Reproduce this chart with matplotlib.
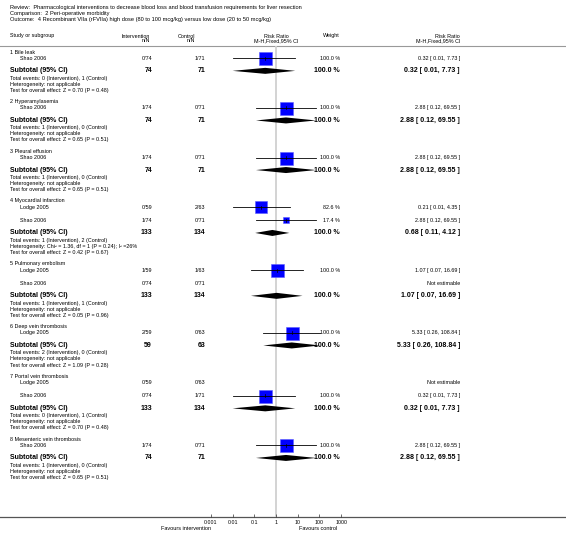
import numpy as np
import matplotlib
matplotlib.use('Agg')
import matplotlib.pyplot as plt

plt.rcParams['font.family'] = ['Liberation Sans', 'DejaVu Sans']

# ---- data ----
title_lines = [
    'Review:  Pharmacological interventions to decrease blood loss and blood transfusion requirements for liver resection',
    'Comparison:  2 Peri-operative morbidity',
    'Outcome:  4 Recombinant VIIa (rFVIIa) high dose (80 to 100 mcg/kg) versus low dose (20 to 50 mcg/kg)',
]

group_names = ['1 Bile leak', '2 Hyperamylasemia', '3 Pleural effusion', '4 Myocardial infarction',
               '5 Pulmonary embolism', '6 Deep vein thrombosis', '7 Portal vein thrombosis',
               '8 Mesenteric vein thrombosis']

study_group = [0, 1, 2, 3, 3, 4, 4, 5, 6, 6, 7]
study_names = ['Shao 2006', 'Shao 2006', 'Shao 2006', 'Lodge 2005', 'Shao 2006', 'Lodge 2005',
               'Shao 2006', 'Lodge 2005', 'Lodge 2005', 'Shao 2006', 'Shao 2006']
study_int = ['0/74', '1/74', '1/74', '0/59', '1/74', '1/59', '0/74', '2/59', '0/59', '0/74', '1/74']
study_ctl = ['1/71', '0/71', '0/71', '2/63', '0/71', '1/63', '0/71', '0/63', '0/63', '1/71', '0/71']
study_weight = [100.0, 100.0, 100.0, 82.6, 17.4, 100.0, None, 100.0, None, 100.0, 100.0]
study_rr = [0.32, 2.88, 2.88, 0.21, 2.88, 1.07, None, 5.33, None, 0.32, 2.88]
study_lo = [0.01, 0.12, 0.12, 0.01, 0.12, 0.07, None, 0.26, None, 0.01, 0.12]
study_hi = [7.73, 69.55, 69.55, 4.35, 69.55, 16.69, None, 108.84, None, 7.73, 69.55]

sub_int_n = [74, 74, 74, 133, 133, 59, 133, 74]
sub_ctl_n = [71, 71, 71, 134, 134, 63, 134, 71]
sub_rr = [0.32, 2.88, 2.88, 0.68, 1.07, 5.33, 0.32, 2.88]
sub_lo = [0.01, 0.12, 0.12, 0.11, 0.07, 0.26, 0.01, 0.12]
sub_hi = [7.73, 69.55, 69.55, 4.12, 16.69, 108.84, 7.73, 69.55]
sub_ev_int = [0, 1, 1, 1, 1, 2, 0, 1]
sub_ev_ctl = [1, 0, 0, 2, 1, 0, 1, 0]
sub_het = ['not applicable', 'not applicable', 'not applicable',
           'Chi\u00b2 = 1.36, df = 1 (P = 0.24); I\u00b2 =26%',
           'not applicable', 'not applicable', 'not applicable', 'not applicable']
sub_z = ['0.70', '0.65', '0.65', '0.42', '0.05', '1.09', '0.70', '0.65']
sub_p = ['0.48', '0.51', '0.51', '0.67', '0.96', '0.28', '0.48', '0.51']

ticks = [0.001, 0.01, 0.1, 1, 10, 100, 1000]
tick_labels = ['0.001', '0.01', '0.1', '1', '10', '100', '1000']

# ---- layout (pixel units) ----
W, H = 566, 545
fs = 3.85     # normal text
fsh = 3.9     # header text
fsb = 5.0     # bold subtotal text
x_label = 10
x_study = 20
x_int = 152
x_ctl = 205
x_null = 276
decade = 21.7
x_weight = 340
x_rr = 460
y_hline = 45.5
y_axis = 517

fig = plt.figure(figsize=(W / 100, H / 100), dpi=100)
ax = fig.add_axes([0, 0, 1, 1])
ax.set_xlim(0, W)
ax.set_ylim(H, 0)
ax.axis('off')

# forest panel with a log scale, y in the same pixel units
px0, px1 = x_null - 100, x_null + 100
pax = fig.add_axes([px0 / W, 1 - y_axis / H, (px1 - px0) / W, (y_axis - y_hline) / H])
pax.set_xscale('log')
pax.set_xlim(10 ** (-100 / decade), 10 ** (100 / decade))
pax.set_ylim(y_axis, y_hline)
pax.patch.set_alpha(0)
for s in pax.spines.values():
    s.set_visible(False)
pax.set_yticks([])
pax.set_xticks(ticks)
pax.set_xticklabels(tick_labels)
pax.minorticks_off()
pax.tick_params(axis='x', direction='in', length=2.2, width=0.5, labelsize=3.8, pad=2.5, color='#333333')
pax.axvline(1, color='#d0d0d0', lw=1.3, zorder=0)

# titles / header
for i, t in enumerate(title_lines):
    ax.text(x_label, 7 + 6.3 * i, t, fontsize=4.1, va='center', ha='left')
ax.text(x_label, 36, 'Study or subgroup', fontsize=fsh, va='center')
ax.text(x_int - 2, 36, 'Intervention', fontsize=fsh, va='center', ha='right')
ax.text(x_int - 2, 41, 'n/N', fontsize=fsh, va='center', ha='right')
ax.text(x_ctl - 10, 36, 'Control', fontsize=fsh, va='center', ha='right')
ax.text(x_ctl - 10, 41, 'n/N', fontsize=fsh, va='center', ha='right')
ax.text(x_null, 36, 'Risk Ratio', fontsize=fsh, va='center', ha='center')
ax.text(x_null, 41, 'M-H,Fixed,95% CI', fontsize=fsh, va='center', ha='center')
ax.text(x_weight, 36, 'Weight', fontsize=fsh, va='center', ha='right')
ax.text(x_rr, 36, 'Risk Ratio', fontsize=fsh, va='center', ha='right')
ax.text(x_rr, 41, 'M-H,Fixed,95% CI', fontsize=fsh, va='center', ha='right')
ax.plot([0, W], [y_hline, y_hline], color='#999999', lw=0.8)
ax.plot([0, W], [y_axis, y_axis], color='#555555', lw=0.9)

# rows
y = 52.0
for g, name in enumerate(group_names):
    ax.text(x_label, y, name, fontsize=fs, va='center')
    y += 6.35
    idx = [i for i, sg in enumerate(study_group) if sg == g]
    for k, i in enumerate(idx):
        if k > 0:
            y += 13.3
        ax.text(x_study, y, study_names[i], fontsize=fs, va='center')
        ax.text(x_int, y, study_int[i], fontsize=fs, va='center', ha='right')
        ax.text(x_ctl, y, study_ctl[i], fontsize=fs, va='center', ha='right')
        if study_rr[i] is None:
            ax.text(x_rr, y, 'Not estimable', fontsize=fs, va='center', ha='right')
            continue
        ax.text(x_weight, y, '%.1f %%' % study_weight[i], fontsize=fs, va='center', ha='right')
        ax.text(x_rr, y, '%.2f [ %.2f, %.2f ]' % (study_rr[i], study_lo[i], study_hi[i]),
                fontsize=fs, va='center', ha='right')
        side = 13.0 * np.sqrt(study_weight[i] / 100.0) * 0.72
        pax.scatter([study_rr[i]], [y], marker='s', s=side ** 2, color='#0000ff',
                    edgecolors='#5c5cff', linewidths=0.4, zorder=3)
        pax.plot([study_lo[i], study_hi[i]], [y, y], color='black', lw=0.6, zorder=4)
        pax.plot([study_rr[i], study_rr[i]], [y - 1.5, y + 1.5], color='black', lw=0.5, zorder=4)
    y += 12.5
    ax.text(x_label, y, 'Subtotal (95% CI)', fontsize=fsb, fontweight='bold', va='center')
    ax.text(x_int, y, str(sub_int_n[g]), fontsize=fsb, fontweight='bold', va='center', ha='right')
    ax.text(x_ctl, y, str(sub_ctl_n[g]), fontsize=fsb, fontweight='bold', va='center', ha='right')
    ax.text(x_weight, y, '100.0 %', fontsize=fsb, fontweight='bold', va='center', ha='right')
    ax.text(x_rr, y, '%.2f [ %.2f, %.2f ]' % (sub_rr[g], sub_lo[g], sub_hi[g]),
            fontsize=fsb, fontweight='bold', va='center', ha='right')
    pax.fill([sub_lo[g], sub_rr[g], sub_hi[g], sub_rr[g]], [y, y - 3, y, y + 3],
             color='black', lw=0, zorder=3)
    y += 7.4
    ax.text(x_label, y, 'Total events: %d (Intervention), %d (Control)' % (sub_ev_int[g], sub_ev_ctl[g]),
            fontsize=fs, va='center')
    y += 6.0
    ax.text(x_label, y, 'Heterogeneity: ' + sub_het[g], fontsize=fs, va='center')
    y += 6.15
    ax.text(x_label, y, 'Test for overall effect: Z = %s (P = %s)' % (sub_z[g], sub_p[g]),
            fontsize=fs, va='center')
    y += 11.2

# favours labels
pax.text(0.001, y_axis + 11.5, 'Favours intervention', fontsize=4.0, ha='right', va='center', clip_on=False)
pax.text(10 ** 1.05, y_axis + 11.5, 'Favours control', fontsize=4.0, ha='left', va='center', clip_on=False)

fig.savefig('out.png', dpi=100)
